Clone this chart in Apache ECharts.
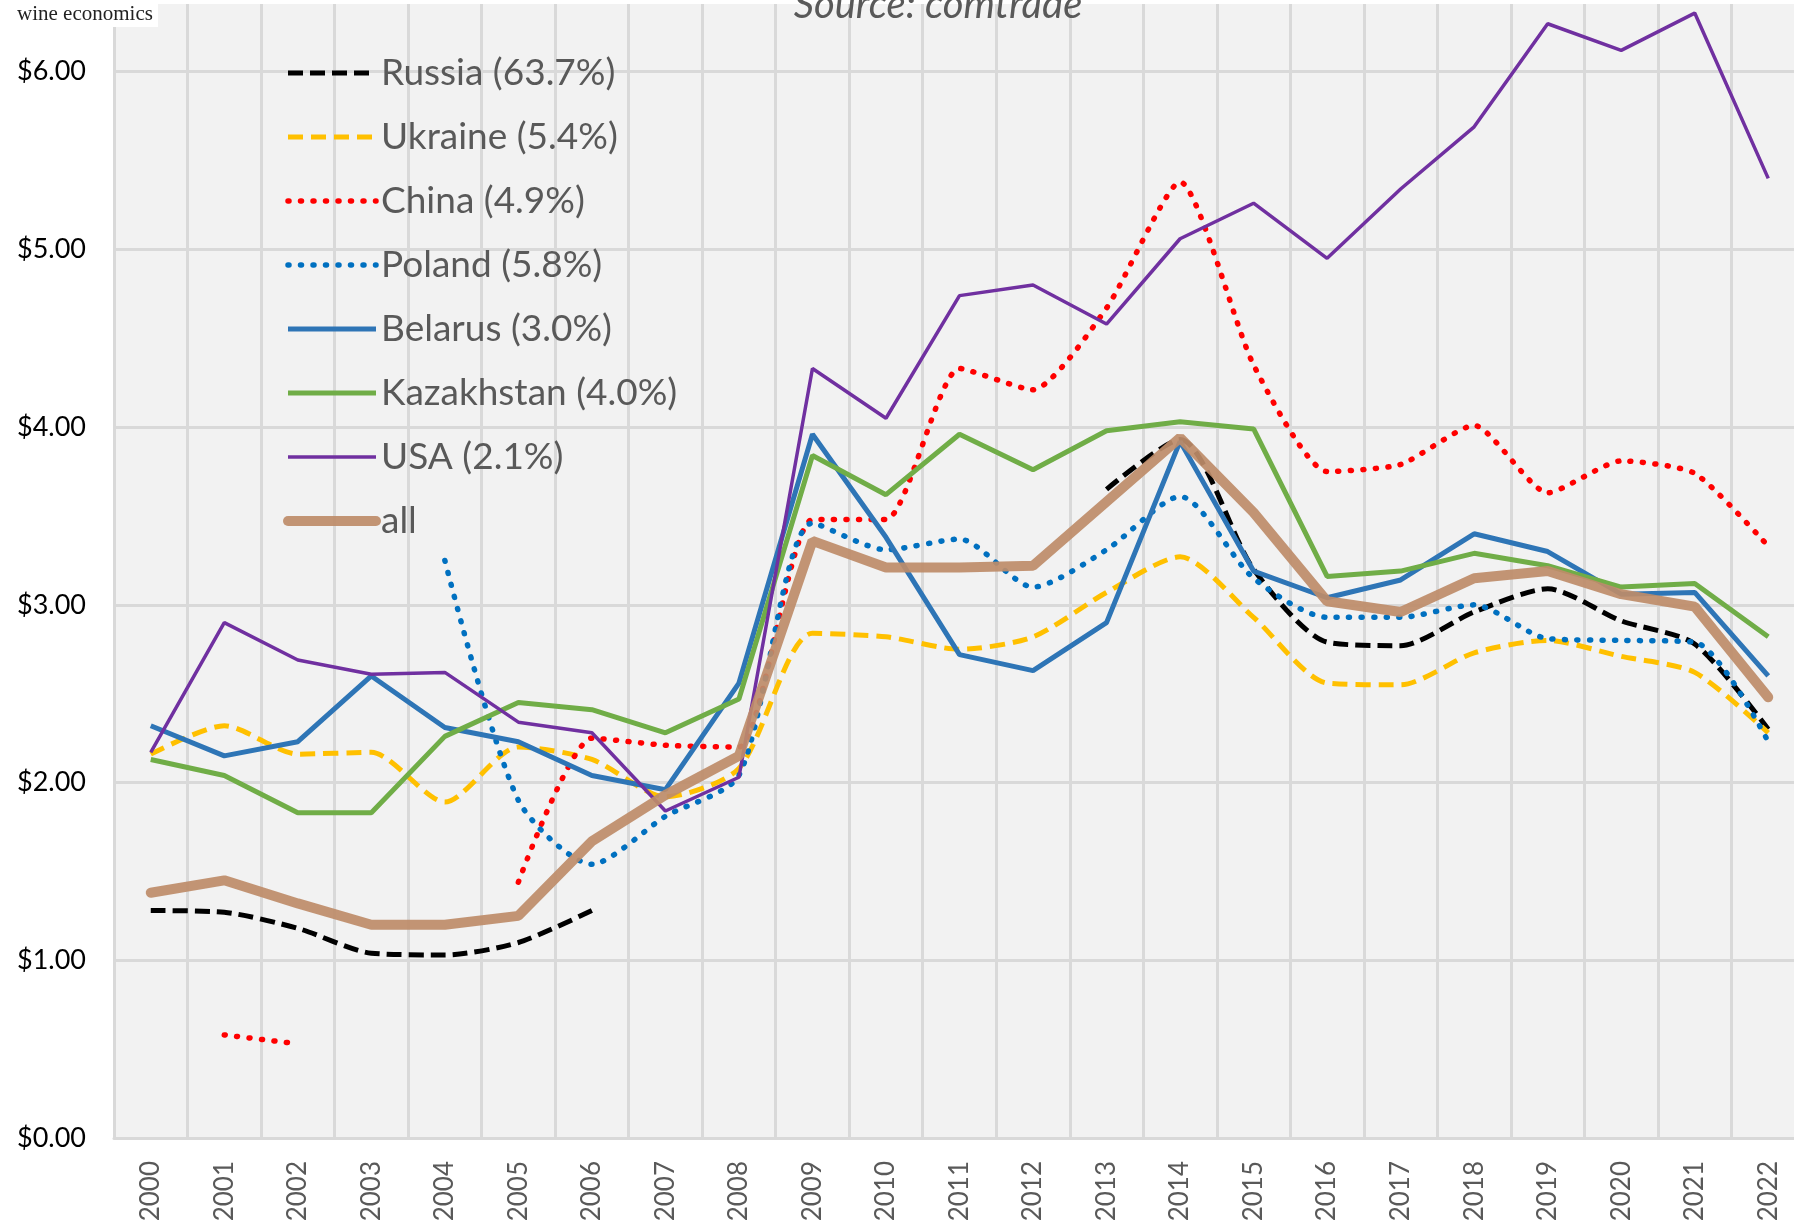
<!DOCTYPE html>
<html>
<head>
<meta charset="utf-8">
<script src="https://cdn.jsdelivr.net/npm/echarts@6/dist/echarts.min.js"></script>
<style>
	html, body { margin: 0; padding: 0; background: #fff; }
	#chart { width: 1794px; height: 1225px; }
</style>
</head>
<body>
<div id="chart"></div>
<script>
	// years on the x axis
	var years = ['2000', '2001', '2002', '2003', '2004', '2005', '2006', '2007', '2008', '2009', '2010', '2011',
		'2012', '2013', '2014', '2015', '2016', '2017', '2018', '2019', '2020', '2021', '2022']

	// average price per litre, US$
	var russia = [1.28, 1.27, 1.18, 1.04, 1.03, 1.10, 1.28, null, null, null, null, null,
		null, 3.65, 3.93, 3.20, 2.79, 2.77, 2.96, 3.09, 2.91, 2.78, 2.30]
	var ukraine = [2.16, 2.32, 2.16, 2.17, 1.89, 2.20, 2.13, 1.92, 2.08, 2.84, 2.82, 2.75,
		2.82, 3.07, 3.27, 2.93, 2.56, 2.55, 2.73, 2.80, 2.71, 2.62, 2.28]
	var china = [null, 0.58, 0.53, null, null, 1.44, 2.25, 2.21, 2.20, 3.48, 3.48, 4.33,
		4.21, 4.67, 5.38, 4.35, 3.75, 3.79, 4.01, 3.63, 3.81, 3.74, 3.33]
	var poland = [null, null, null, null, 3.25, 1.90, 1.54, 1.81, 2.04, 3.46, 3.31, 3.37,
		3.10, 3.31, 3.61, 3.15, 2.93, 2.93, 3.00, 2.81, 2.80, 2.79, 2.23]
	var belarus = [2.32, 2.15, 2.23, 2.60, 2.31, 2.23, 2.04, 1.96, 2.56, 3.96, 3.38, 2.72,
		2.63, 2.90, 3.92, 3.19, 3.04, 3.14, 3.40, 3.30, 3.06, 3.07, 2.60]
	var kazakhstan = [2.13, 2.04, 1.83, 1.83, 2.26, 2.45, 2.41, 2.28, 2.47, 3.84, 3.62, 3.96,
		3.76, 3.98, 4.03, 3.99, 3.16, 3.19, 3.29, 3.22, 3.10, 3.12, 2.82]
	var usa = [2.17, 2.90, 2.69, 2.61, 2.62, 2.34, 2.28, 1.84, 2.03, 4.33, 4.05, 4.74,
		4.80, 4.58, 5.06, 5.26, 4.95, 5.34, 5.69, 6.27, 6.12, 6.33, 5.40]
	var all = [1.38, 1.45, 1.32, 1.20, 1.20, 1.25, 1.67, 1.93, 2.15, 3.36, 3.21, 3.21,
		3.22, 3.58, 3.94, 3.52, 3.02, 2.96, 3.15, 3.19, 3.06, 2.99, 2.48]

	var seriesNames = ['Russia (63.7%)', 'Ukraine (5.4%)', 'China (4.9%)', 'Poland (5.8%)',
		'Belarus (3.0%)', 'Kazakhstan (4.0%)', 'USA (2.1%)', 'all']

	var font = 'Lato, "Open Sans", sans-serif'

	function makeLine(name, data, color, width, type, cap, smooth) {
		return {
			name: name,
			type: 'line',
			data: data,
			symbol: 'none',
			smooth: smooth,
			connectNulls: false,
			lineStyle: {
				color: color,
				width: width,
				type: type,
				cap: cap
			},
			itemStyle: { color: color },
			emphasis: { disabled: true }
		}
	}

	var series = [
		makeLine(seriesNames[0], russia, '#000000', 5, [15, 7], 'butt', 0.25),
		makeLine(seriesNames[1], ukraine, '#FFC000', 5, [15, 8], 'butt', 0.25),
		makeLine(seriesNames[2], china, '#FF0000', 5.5, [1, 11.5], 'round', 0.2),
		makeLine(seriesNames[3], poland, '#0070C0', 5.5, [1, 11.5], 'round', 0.25),
		makeLine(seriesNames[4], belarus, '#2E75B6', 5, 'solid', 'butt', false),
		makeLine(seriesNames[5], kazakhstan, '#70AD47', 5, 'solid', 'butt', false),
		makeLine(seriesNames[6], usa, '#7030A0', 3.5, 'solid', 'butt', false),
		makeLine(seriesNames[7], all, '#BE8C69', 10, 'solid', 'round', false)
	]
	series[7].lineStyle.opacity = 0.92

	// legend entries carry the same line width as their series
	var legendData = series.map(function (s) {
		return {
			name: s.name,
			lineStyle: { width: s.lineStyle.width, type: s.lineStyle.type, cap: s.lineStyle.cap }
		}
	})

	var chart = echarts.init(document.getElementById('chart'))
	chart.setOption({
		backgroundColor: '#ffffff',
		animation: false,
		grid: {
			show: true,
			backgroundColor: '#F2F2F2',
			borderWidth: 0,
			left: 114,
			right: -11,
			top: -106,
			bottom: 87,
			outerBoundsMode: 'none'
		},
		legend: {
			orient: 'vertical',
			left: 278,
			top: 48,
			itemWidth: 88,
			itemHeight: 20,
			itemGap: 24,
			data: legendData,
			selectedMode: false,
			itemStyle: { opacity: 0 },
			textStyle: {
				fontFamily: font,
				fontSize: 37,
				lineHeight: 40,
				color: '#595959'
			}
		},
		xAxis: {
			type: 'category',
			data: years,
			boundaryGap: true,
			axisLine: { lineStyle: { color: '#D9D9D9', width: 3 } },
			axisTick: { show: false },
			splitLine: { show: true, lineStyle: { color: '#D9D9D9', width: 3 } },
			axisLabel: {
				rotate: 90,
				interval: 0,
				margin: 23,
				fontFamily: font,
				fontSize: 26,
				color: '#595959'
			}
		},
		yAxis: {
			type: 'value',
			min: 0,
			max: 7,
			interval: 1,
			axisLine: { show: false },
			axisTick: { show: false },
			splitLine: { lineStyle: { color: '#D9D9D9', width: 3 } },
			axisLabel: {
				margin: 28,
				fontFamily: font,
				fontSize: 27,
				color: '#000000',
				formatter: function (v) {
					return '$' + v.toFixed(2)
				}
			}
		},
		graphic: [
			{
				type: 'rect',
				z: 100,
				shape: { x: 0, y: 0, width: 1794, height: 4 },
				style: { fill: '#ffffff' }
			},
			{
				type: 'rect',
				z: 100,
				shape: { x: 0, y: 0, width: 158, height: 27 },
				style: { fill: '#ffffff' }
			},
			{
				type: 'text',
				z: 101,
				x: 17,
				y: 4,
				style: {
					text: 'wine economics',
					font: '21px "Liberation Serif", serif',
					fill: '#222222'
				}
			},
			{
				type: 'text',
				z: 101,
				x: 938,
				y: -15,
				style: {
					text: 'Source: comtrade',
					font: 'italic 40px Lato, sans-serif',
					fill: '#595959',
					align: 'center'
				}
			}
		],
		series: series
	})
</script>
</body>
</html>
